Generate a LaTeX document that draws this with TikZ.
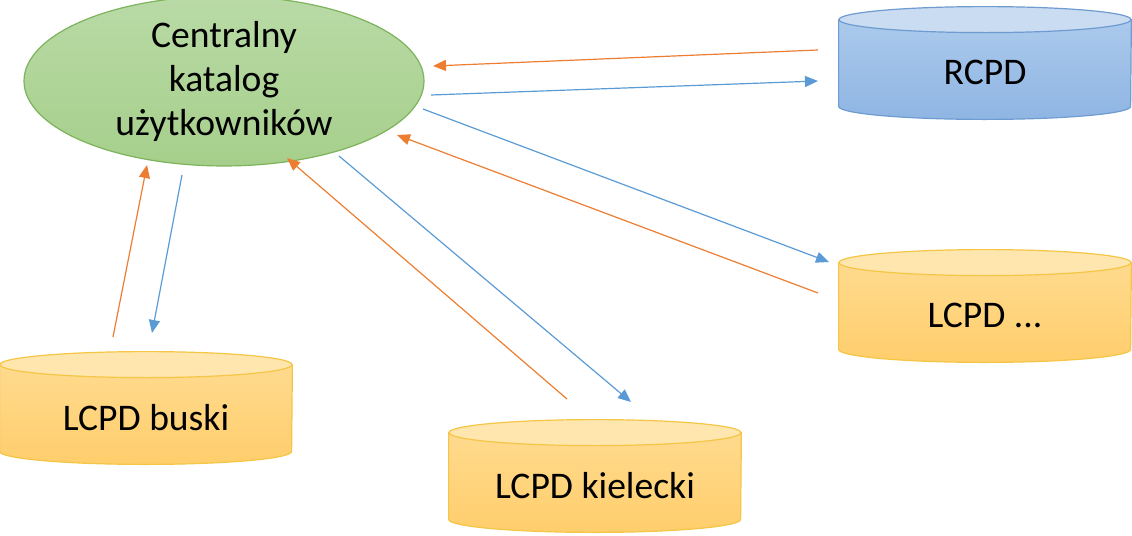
\documentclass[tikz,border=0pt]{standalone}
\usepackage{fontspec}
\setmainfont{Carlito}
\usetikzlibrary{shapes.geometric,arrows.meta,backgrounds}

\definecolor{arrorange}{HTML}{ED7D31}
\definecolor{arrblue}{HTML}{5B9BD5}
\definecolor{cattop}{HTML}{B9DAA6}
\definecolor{catbot}{HTML}{A6CF8B}
\definecolor{catrim}{HTML}{7DB35C}
\definecolor{rcpdtop}{HTML}{ABCAEC}
\definecolor{rcpdbot}{HTML}{8FB5E3}
\definecolor{rcpdlid}{HTML}{C9DCF1}
\definecolor{rcpdrim}{HTML}{6E9BD0}
\definecolor{lcpdtop}{HTML}{FFDA8E}
\definecolor{lcpdbot}{HTML}{FFCE6C}
\definecolor{lcpdlid}{HTML}{FFE6AE}
\definecolor{lcpdrim}{HTML}{F5C545}

\tikzset{
  base/.style={font=\fontsize{18.8pt}{22pt}\selectfont, inner sep=0pt},
  catalog/.style={base, ellipse, draw=catrim, line width=0.6pt, top color=cattop, bottom color=catbot, minimum width=200pt, minimum height=75pt, align=center},
  dbbox/.style={base, minimum width=146pt, minimum height=43pt, text depth=4pt},
  flow/.style={draw=#1, line width=0.6pt, -{Triangle[length=6.5pt,width=5.5pt,fill=#1]}},
}

\begin{document}
\begin{tikzpicture}[x=0.5pt, y=0.5pt]
\useasboundingbox (0,0) rectangle (1132,-536);

\node[catalog] (ck) at (224,-81) {Centralny\\katalog\\użytkowników};
\node[dbbox] (rcpd) at (985,-76) {RCPD};
\node[dbbox] (lcpd) at (985,-319) {LCPD ...};
\node[dbbox] (buski) at (146,-421) {LCPD buski};
\node[dbbox] (kielce) at (595,-489) {LCPD kielecki};

% cylinders behind the labels
\begin{scope}[on background layer]
\foreach \n/\bt/\bb/\lid/\rim in {rcpd/rcpdtop/rcpdbot/rcpdlid/rcpdrim, lcpd/lcpdtop/lcpdbot/lcpdlid/lcpdrim, buski/lcpdtop/lcpdbot/lcpdlid/lcpdrim, kielce/lcpdtop/lcpdbot/lcpdlid/lcpdrim} {
  \path[draw=\rim, line width=0.6pt, top color=\bt, bottom color=\bb] ([yshift=6.5pt]\n.north west) -- ([yshift=6.5pt]\n.south west) arc[start angle=180, end angle=360, x radius=73pt, y radius=6.5pt] -- ([yshift=6.5pt]\n.north east) -- cycle;
  \path[draw=\rim, line width=0.6pt, fill=\lid] ([yshift=6.5pt]\n.north) ellipse[x radius=73pt, y radius=6.5pt];
}
\end{scope}

% arrow ends
\coordinate (rcpd-out) at (818,-50);
\coordinate (ck-in1) at (433,-66);
\coordinate (ck-out1) at (431,-95);
\coordinate (rcpd-in) at (818,-81);
\coordinate (ck-out2) at (423,-109);
\coordinate (lcpd-in) at (829,-262);
\coordinate (lcpd-out) at (818,-293);
\coordinate (ck-in2) at (397,-135);
\coordinate (kielce-out) at (567,-399);
\coordinate (ck-in3) at (287,-158);
\coordinate (ck-out3) at (339,-156);
\coordinate (kielce-in) at (631,-402);
\coordinate (buski-out) at (113,-337);
\coordinate (ck-in4) at (147,-165);
\coordinate (ck-out4) at (182,-175);
\coordinate (buski-in) at (152,-333);

\draw[flow=arrorange] (rcpd-out) -- (ck-in1);
\draw[flow=arrblue] (ck-out1) -- (rcpd-in);
\draw[flow=arrblue] (ck-out2) -- (lcpd-in);
\draw[flow=arrorange] (lcpd-out) -- (ck-in2);
\draw[flow=arrorange] (kielce-out) -- (ck-in3);
\draw[flow=arrblue] (ck-out3) -- (kielce-in);
\draw[flow=arrorange] (buski-out) -- (ck-in4);
\draw[flow=arrblue] (ck-out4) -- (buski-in);
\end{tikzpicture}
\end{document}
